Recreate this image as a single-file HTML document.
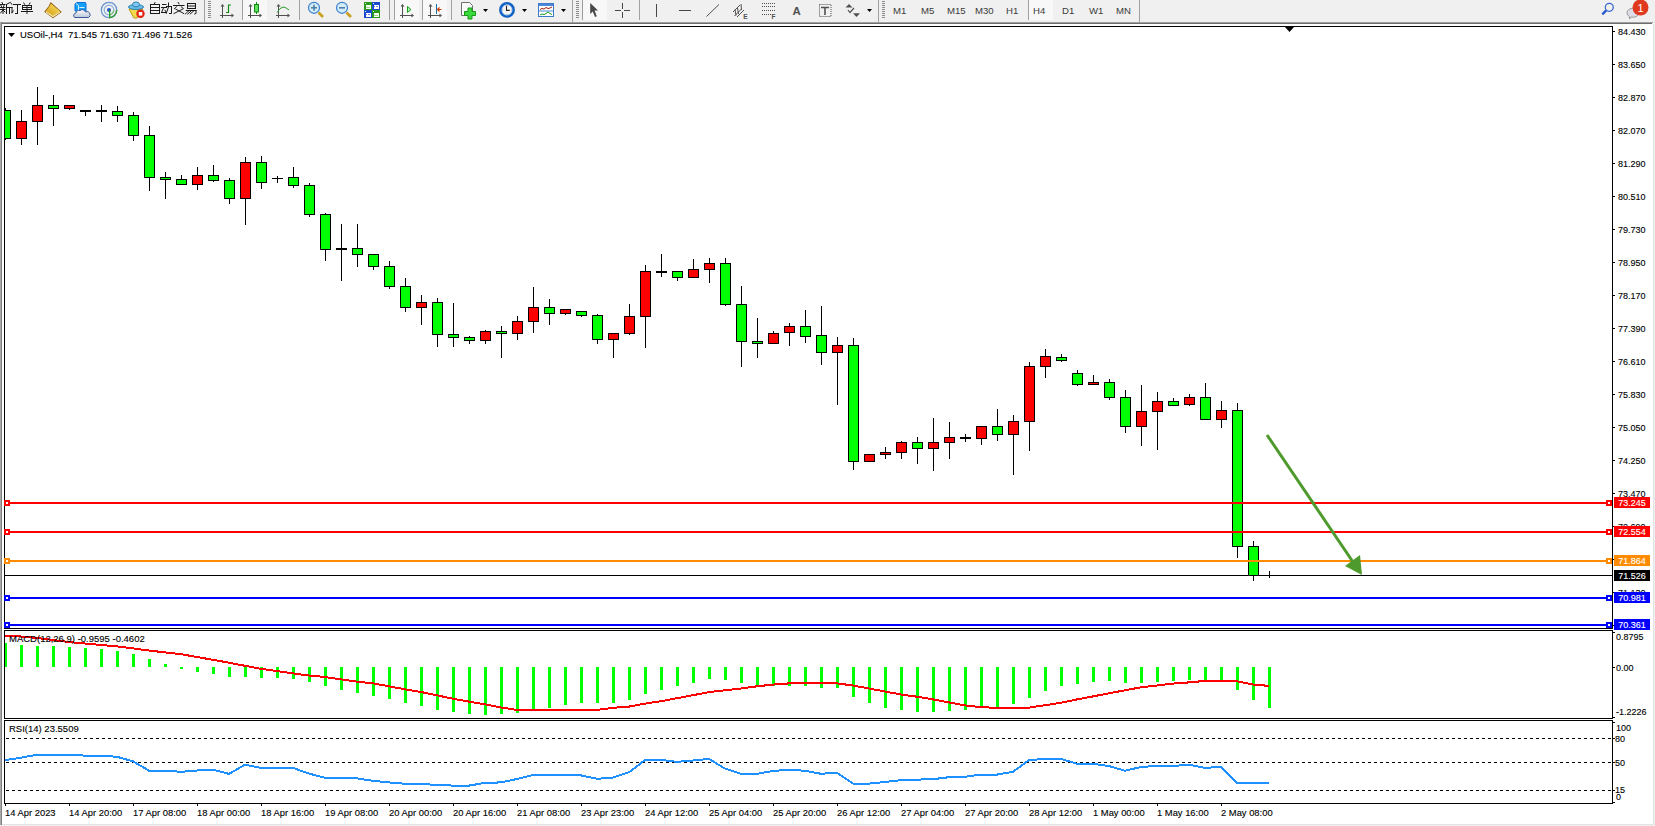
<!DOCTYPE html>
<html><head><meta charset="utf-8">
<style>
html,body{margin:0;padding:0;}
body{width:1655px;height:826px;overflow:hidden;position:relative;background:#f0f0f0;font-family:"Liberation Sans",sans-serif;}
.pl,.tl,.hd,.bx{-webkit-text-stroke:0.12px currentColor;}
svg{position:absolute;left:0;top:0;}
.pl{position:absolute;left:1618px;font-size:9.8px;line-height:12px;color:#000;white-space:pre;transform:scaleX(0.92);transform-origin:0 0;}
.tl{position:absolute;top:806.6px;font-size:9.4px;line-height:12px;color:#000;white-space:pre;}
.bx{position:absolute;left:1614px;width:36px;height:11px;font-size:9px;line-height:11px;color:#fff;text-align:center;white-space:pre;}
.bx span{display:inline-block;font-size:9.8px;transform:scaleX(0.92);}
.hd{position:absolute;font-size:9.5px;line-height:12px;color:#000;white-space:pre;}
.tf{position:absolute;top:4.5px;font-size:9.6px;line-height:12px;color:#3a3a3a;white-space:pre;}
</style></head>
<body>
<svg width="1655" height="826" viewBox="0 0 1655 826" shape-rendering="crispEdges">
  <!-- window frame -->
  <rect x="0" y="22" width="1653" height="1" fill="#a0a0a0"/>
  <rect x="0" y="23" width="1652" height="1" fill="#6e6e6e"/>
  <rect x="2" y="24" width="1651" height="800" fill="#ffffff"/>
  <rect x="0" y="22" width="1" height="803" fill="#a9a9a9"/>
  <rect x="1" y="22" width="1" height="803" fill="#808080"/>
  <rect x="1653" y="24" width="1" height="801" fill="#e4e4e4"/>
  <rect x="2" y="824" width="1652" height="1" fill="#e3e3e3"/>
  <!-- borders -->
  <g fill="#000">
    <rect x="4" y="26" width="1609" height="1"/>
    <rect x="4" y="628" width="1609" height="1"/>
    <rect x="4" y="26" width="1" height="603"/>
    <rect x="1612" y="26" width="1" height="603"/>
    <rect x="4" y="630" width="1609" height="1"/>
    <rect x="4" y="718" width="1609" height="1"/>
    <rect x="4" y="630" width="1" height="89"/>
    <rect x="1612" y="630" width="1" height="89"/>
    <rect x="4" y="720" width="1609" height="1"/>
    <rect x="4" y="803" width="1609" height="1"/>
    <rect x="4" y="720" width="1" height="84"/>
    <rect x="1612" y="720" width="1" height="84"/>
    <rect x="1613" y="31" width="2" height="1"/><rect x="1613" y="64" width="2" height="1"/><rect x="1613" y="97" width="2" height="1"/><rect x="1613" y="130" width="2" height="1"/><rect x="1613" y="163" width="2" height="1"/><rect x="1613" y="196" width="2" height="1"/><rect x="1613" y="229" width="2" height="1"/><rect x="1613" y="262" width="2" height="1"/><rect x="1613" y="295" width="2" height="1"/><rect x="1613" y="328" width="2" height="1"/><rect x="1613" y="361" width="2" height="1"/><rect x="1613" y="394" width="2" height="1"/><rect x="1613" y="427" width="2" height="1"/><rect x="1613" y="460" width="2" height="1"/><rect x="1613" y="493" width="2" height="1"/><rect x="1613" y="526" width="2" height="1"/><rect x="1613" y="559" width="2" height="1"/><rect x="1613" y="592" width="2" height="1"/><rect x="1613" y="625" width="2" height="1"/>
    <rect x="1613" y="632" width="2" height="1"/>
    <rect x="1613" y="667" width="2" height="1"/>
    <rect x="1613" y="717" width="2" height="1"/>
    <rect x="1613" y="722" width="2" height="1"/>
    <rect x="1613" y="738" width="2" height="1"/>
    <rect x="1613" y="762" width="2" height="1"/>
    <rect x="1613" y="790" width="2" height="1"/>
    <rect x="1613" y="802" width="2" height="1"/>
    <rect x="5" y="804" width="1" height="2"/><rect x="69" y="804" width="1" height="2"/><rect x="133" y="804" width="1" height="2"/><rect x="197" y="804" width="1" height="2"/><rect x="261" y="804" width="1" height="2"/><rect x="325" y="804" width="1" height="2"/><rect x="389" y="804" width="1" height="2"/><rect x="453" y="804" width="1" height="2"/><rect x="517" y="804" width="1" height="2"/><rect x="581" y="804" width="1" height="2"/><rect x="645" y="804" width="1" height="2"/><rect x="709" y="804" width="1" height="2"/><rect x="773" y="804" width="1" height="2"/><rect x="837" y="804" width="1" height="2"/><rect x="901" y="804" width="1" height="2"/><rect x="965" y="804" width="1" height="2"/><rect x="1029" y="804" width="1" height="2"/><rect x="1093" y="804" width="1" height="2"/><rect x="1157" y="804" width="1" height="2"/><rect x="1221" y="804" width="1" height="2"/>
    <polygon points="1285,27 1294,27 1289.5,32" shape-rendering="auto"/>
  </g>
  <defs>
    <clipPath id="cm"><rect x="5" y="27" width="1607" height="601"/></clipPath>
    <clipPath id="cd"><rect x="5" y="631" width="1607" height="87"/></clipPath>
    <clipPath id="cr"><rect x="5" y="721" width="1607" height="82"/></clipPath>
  </defs>
  <g clip-path="url(#cm)" fill="#000">
    <rect x="5" y="108" width="1" height="32"/><rect x="0" y="110" width="11" height="29"/><rect x="1" y="111" width="9" height="27" fill="#00ff00"/><rect x="21" y="110" width="1" height="35"/><rect x="16" y="121" width="11" height="18"/><rect x="17" y="122" width="9" height="16" fill="#ff0000"/><rect x="37" y="87" width="1" height="58"/><rect x="32" y="105" width="11" height="17"/><rect x="33" y="106" width="9" height="15" fill="#ff0000"/><rect x="53" y="95" width="1" height="31"/><rect x="48" y="105" width="11" height="4"/><rect x="49" y="106" width="9" height="2" fill="#00ff00"/><rect x="69" y="105" width="1" height="5"/><rect x="64" y="105" width="11" height="4"/><rect x="65" y="106" width="9" height="2" fill="#ff0000"/><rect x="85" y="110" width="1" height="6"/><rect x="80" y="110" width="11" height="2"/><rect x="101" y="105" width="1" height="17"/><rect x="96" y="110" width="11" height="2"/><rect x="117" y="106" width="1" height="16"/><rect x="112" y="111" width="11" height="5"/><rect x="113" y="112" width="9" height="3" fill="#00ff00"/><rect x="133" y="112" width="1" height="29"/><rect x="128" y="115" width="11" height="21"/><rect x="129" y="116" width="9" height="19" fill="#00ff00"/><rect x="149" y="126" width="1" height="65"/><rect x="144" y="135" width="11" height="43"/><rect x="145" y="136" width="9" height="41" fill="#00ff00"/><rect x="165" y="172" width="1" height="27"/><rect x="160" y="177" width="11" height="3"/><rect x="161" y="178" width="9" height="1" fill="#00ff00"/><rect x="181" y="175" width="1" height="10"/><rect x="176" y="179" width="11" height="6"/><rect x="177" y="180" width="9" height="4" fill="#00ff00"/><rect x="197" y="167" width="1" height="23"/><rect x="192" y="175" width="11" height="10"/><rect x="193" y="176" width="9" height="8" fill="#ff0000"/><rect x="213" y="165" width="1" height="17"/><rect x="208" y="175" width="11" height="6"/><rect x="209" y="176" width="9" height="4" fill="#00ff00"/><rect x="229" y="178" width="1" height="26"/><rect x="224" y="180" width="11" height="19"/><rect x="225" y="181" width="9" height="17" fill="#00ff00"/><rect x="245" y="157" width="1" height="68"/><rect x="240" y="162" width="11" height="37"/><rect x="241" y="163" width="9" height="35" fill="#ff0000"/><rect x="261" y="156" width="1" height="33"/><rect x="256" y="162" width="11" height="21"/><rect x="257" y="163" width="9" height="19" fill="#00ff00"/><rect x="277" y="176" width="1" height="7"/><rect x="272" y="178" width="11" height="1"/><rect x="293" y="167" width="1" height="21"/><rect x="288" y="177" width="11" height="9"/><rect x="289" y="178" width="9" height="7" fill="#00ff00"/><rect x="309" y="183" width="1" height="34"/><rect x="304" y="185" width="11" height="30"/><rect x="305" y="186" width="9" height="28" fill="#00ff00"/><rect x="325" y="213" width="1" height="48"/><rect x="320" y="214" width="11" height="36"/><rect x="321" y="215" width="9" height="34" fill="#00ff00"/><rect x="341" y="224" width="1" height="57"/><rect x="336" y="248" width="11" height="2"/><rect x="357" y="224" width="1" height="43"/><rect x="352" y="248" width="11" height="7"/><rect x="353" y="249" width="9" height="5" fill="#00ff00"/><rect x="373" y="254" width="1" height="16"/><rect x="368" y="254" width="11" height="13"/><rect x="369" y="255" width="9" height="11" fill="#00ff00"/><rect x="389" y="261" width="1" height="28"/><rect x="384" y="266" width="11" height="21"/><rect x="385" y="267" width="9" height="19" fill="#00ff00"/><rect x="405" y="278" width="1" height="34"/><rect x="400" y="286" width="11" height="22"/><rect x="401" y="287" width="9" height="20" fill="#00ff00"/><rect x="421" y="295" width="1" height="30"/><rect x="416" y="302" width="11" height="6"/><rect x="417" y="303" width="9" height="4" fill="#ff0000"/><rect x="437" y="298" width="1" height="49"/><rect x="432" y="302" width="11" height="33"/><rect x="433" y="303" width="9" height="31" fill="#00ff00"/><rect x="453" y="303" width="1" height="44"/><rect x="448" y="334" width="11" height="4"/><rect x="449" y="335" width="9" height="2" fill="#00ff00"/><rect x="469" y="336" width="1" height="8"/><rect x="464" y="337" width="11" height="4"/><rect x="465" y="338" width="9" height="2" fill="#00ff00"/><rect x="485" y="330" width="1" height="14"/><rect x="480" y="331" width="11" height="10"/><rect x="481" y="332" width="9" height="8" fill="#ff0000"/><rect x="501" y="326" width="1" height="32"/><rect x="496" y="331" width="11" height="3"/><rect x="497" y="332" width="9" height="1" fill="#00ff00"/><rect x="517" y="316" width="1" height="24"/><rect x="512" y="321" width="11" height="13"/><rect x="513" y="322" width="9" height="11" fill="#ff0000"/><rect x="533" y="287" width="1" height="46"/><rect x="528" y="307" width="11" height="15"/><rect x="529" y="308" width="9" height="13" fill="#ff0000"/><rect x="549" y="299" width="1" height="26"/><rect x="544" y="307" width="11" height="7"/><rect x="545" y="308" width="9" height="5" fill="#00ff00"/><rect x="565" y="309" width="1" height="6"/><rect x="560" y="309" width="11" height="5"/><rect x="561" y="310" width="9" height="3" fill="#ff0000"/><rect x="581" y="311" width="1" height="6"/><rect x="576" y="311" width="11" height="5"/><rect x="577" y="312" width="9" height="3" fill="#00ff00"/><rect x="597" y="314" width="1" height="30"/><rect x="592" y="315" width="11" height="25"/><rect x="593" y="316" width="9" height="23" fill="#00ff00"/><rect x="613" y="333" width="1" height="25"/><rect x="608" y="333" width="11" height="7"/><rect x="609" y="334" width="9" height="5" fill="#ff0000"/><rect x="629" y="304" width="1" height="31"/><rect x="624" y="316" width="11" height="18"/><rect x="625" y="317" width="9" height="16" fill="#ff0000"/><rect x="645" y="265" width="1" height="83"/><rect x="640" y="271" width="11" height="46"/><rect x="641" y="272" width="9" height="44" fill="#ff0000"/><rect x="661" y="254" width="1" height="23"/><rect x="656" y="271" width="11" height="2"/><rect x="677" y="271" width="1" height="10"/><rect x="672" y="271" width="11" height="7"/><rect x="673" y="272" width="9" height="5" fill="#00ff00"/><rect x="693" y="259" width="1" height="19"/><rect x="688" y="269" width="11" height="9"/><rect x="689" y="270" width="9" height="7" fill="#ff0000"/><rect x="709" y="258" width="1" height="25"/><rect x="704" y="263" width="11" height="7"/><rect x="705" y="264" width="9" height="5" fill="#ff0000"/><rect x="725" y="258" width="1" height="48"/><rect x="720" y="263" width="11" height="42"/><rect x="721" y="264" width="9" height="40" fill="#00ff00"/><rect x="741" y="286" width="1" height="81"/><rect x="736" y="304" width="11" height="38"/><rect x="737" y="305" width="9" height="36" fill="#00ff00"/><rect x="757" y="318" width="1" height="40"/><rect x="752" y="341" width="11" height="3"/><rect x="753" y="342" width="9" height="1" fill="#00ff00"/><rect x="773" y="331" width="1" height="13"/><rect x="768" y="333" width="11" height="11"/><rect x="769" y="334" width="9" height="9" fill="#ff0000"/><rect x="789" y="323" width="1" height="23"/><rect x="784" y="326" width="11" height="7"/><rect x="785" y="327" width="9" height="5" fill="#ff0000"/><rect x="805" y="310" width="1" height="33"/><rect x="800" y="326" width="11" height="11"/><rect x="801" y="327" width="9" height="9" fill="#00ff00"/><rect x="821" y="306" width="1" height="59"/><rect x="816" y="335" width="11" height="18"/><rect x="817" y="336" width="9" height="16" fill="#00ff00"/><rect x="837" y="337" width="1" height="68"/><rect x="832" y="345" width="11" height="8"/><rect x="833" y="346" width="9" height="6" fill="#ff0000"/><rect x="853" y="338" width="1" height="132"/><rect x="848" y="345" width="11" height="117"/><rect x="849" y="346" width="9" height="115" fill="#00ff00"/><rect x="869" y="454" width="1" height="8"/><rect x="864" y="454" width="11" height="8"/><rect x="865" y="455" width="9" height="6" fill="#ff0000"/><rect x="885" y="447" width="1" height="12"/><rect x="880" y="452" width="11" height="3"/><rect x="881" y="453" width="9" height="1" fill="#ff0000"/><rect x="901" y="441" width="1" height="18"/><rect x="896" y="442" width="11" height="11"/><rect x="897" y="443" width="9" height="9" fill="#ff0000"/><rect x="917" y="437" width="1" height="27"/><rect x="912" y="442" width="11" height="7"/><rect x="913" y="443" width="9" height="5" fill="#00ff00"/><rect x="933" y="418" width="1" height="53"/><rect x="928" y="442" width="11" height="7"/><rect x="929" y="443" width="9" height="5" fill="#ff0000"/><rect x="949" y="422" width="1" height="37"/><rect x="944" y="437" width="11" height="6"/><rect x="945" y="438" width="9" height="4" fill="#ff0000"/><rect x="965" y="434" width="1" height="8"/><rect x="960" y="437" width="11" height="2"/><rect x="981" y="426" width="1" height="19"/><rect x="976" y="426" width="11" height="13"/><rect x="977" y="427" width="9" height="11" fill="#ff0000"/><rect x="997" y="409" width="1" height="32"/><rect x="992" y="426" width="11" height="9"/><rect x="993" y="427" width="9" height="7" fill="#00ff00"/><rect x="1013" y="415" width="1" height="60"/><rect x="1008" y="421" width="11" height="14"/><rect x="1009" y="422" width="9" height="12" fill="#ff0000"/><rect x="1029" y="362" width="1" height="89"/><rect x="1024" y="366" width="11" height="56"/><rect x="1025" y="367" width="9" height="54" fill="#ff0000"/><rect x="1045" y="349" width="1" height="29"/><rect x="1040" y="356" width="11" height="11"/><rect x="1041" y="357" width="9" height="9" fill="#ff0000"/><rect x="1061" y="354" width="1" height="8"/><rect x="1056" y="357" width="11" height="4"/><rect x="1057" y="358" width="9" height="2" fill="#00ff00"/><rect x="1077" y="370" width="1" height="16"/><rect x="1072" y="373" width="11" height="12"/><rect x="1073" y="374" width="9" height="10" fill="#00ff00"/><rect x="1093" y="375" width="1" height="10"/><rect x="1088" y="382" width="11" height="3"/><rect x="1089" y="383" width="9" height="1" fill="#ff0000"/><rect x="1109" y="379" width="1" height="21"/><rect x="1104" y="382" width="11" height="16"/><rect x="1105" y="383" width="9" height="14" fill="#00ff00"/><rect x="1125" y="390" width="1" height="43"/><rect x="1120" y="397" width="11" height="30"/><rect x="1121" y="398" width="9" height="28" fill="#00ff00"/><rect x="1141" y="385" width="1" height="61"/><rect x="1136" y="411" width="11" height="16"/><rect x="1137" y="412" width="9" height="14" fill="#ff0000"/><rect x="1157" y="392" width="1" height="58"/><rect x="1152" y="401" width="11" height="11"/><rect x="1153" y="402" width="9" height="9" fill="#ff0000"/><rect x="1173" y="398" width="1" height="8"/><rect x="1168" y="401" width="11" height="5"/><rect x="1169" y="402" width="9" height="3" fill="#00ff00"/><rect x="1189" y="394" width="1" height="12"/><rect x="1184" y="397" width="11" height="8"/><rect x="1185" y="398" width="9" height="6" fill="#ff0000"/><rect x="1205" y="383" width="1" height="37"/><rect x="1200" y="397" width="11" height="23"/><rect x="1201" y="398" width="9" height="21" fill="#00ff00"/><rect x="1221" y="401" width="1" height="27"/><rect x="1216" y="410" width="11" height="10"/><rect x="1217" y="411" width="9" height="8" fill="#ff0000"/><rect x="1237" y="403" width="1" height="155"/><rect x="1232" y="410" width="11" height="137"/><rect x="1233" y="411" width="9" height="135" fill="#00ff00"/><rect x="1253" y="541" width="1" height="40"/><rect x="1248" y="546" width="11" height="30"/><rect x="1249" y="547" width="9" height="28" fill="#00ff00"/><rect x="1269" y="571" width="1" height="7"/><rect x="1264" y="575" width="11" height="1"/>
    <rect x="5" y="502" width="1607" height="2" fill="#ff0000"/><rect x="5" y="531" width="1607" height="2" fill="#ff0000"/><rect x="5" y="560" width="1607" height="2" fill="#ff8c00"/><rect x="5" y="597" width="1607" height="2" fill="#0000ff"/><rect x="5" y="624" width="1607" height="2" fill="#0000ff"/>
    <rect x="5" y="575" width="1607" height="1" fill="#000"/>
    <line x1="1267" y1="435" x2="1353" y2="562" stroke="#4f9a2c" stroke-width="3" shape-rendering="auto"/>
    <polygon points="1345,566 1360,555 1362,575" fill="#4f9a2c" shape-rendering="auto"/>
  </g>
  <g><rect x="4" y="500" width="6" height="6" fill="#ff0000"/><rect x="6" y="502" width="2" height="2" fill="#fff"/><rect x="1606" y="500" width="6" height="6" fill="#ff0000"/><rect x="1608" y="502" width="2" height="2" fill="#fff"/><rect x="4" y="529" width="6" height="6" fill="#ff0000"/><rect x="6" y="531" width="2" height="2" fill="#fff"/><rect x="1606" y="529" width="6" height="6" fill="#ff0000"/><rect x="1608" y="531" width="2" height="2" fill="#fff"/><rect x="4" y="558" width="6" height="6" fill="#ff8c00"/><rect x="6" y="560" width="2" height="2" fill="#fff"/><rect x="1606" y="558" width="6" height="6" fill="#ff8c00"/><rect x="1608" y="560" width="2" height="2" fill="#fff"/><rect x="4" y="595" width="6" height="6" fill="#0000ff"/><rect x="6" y="597" width="2" height="2" fill="#fff"/><rect x="1606" y="595" width="6" height="6" fill="#0000ff"/><rect x="1608" y="597" width="2" height="2" fill="#fff"/><rect x="4" y="622" width="6" height="6" fill="#0000ff"/><rect x="6" y="624" width="2" height="2" fill="#fff"/><rect x="1606" y="622" width="6" height="6" fill="#0000ff"/><rect x="1608" y="624" width="2" height="2" fill="#fff"/></g>
  <g clip-path="url(#cd)">
    <g fill="#00ff00"><rect x="4" y="643" width="3" height="24"/><rect x="20" y="645" width="3" height="22"/><rect x="36" y="646" width="3" height="21"/><rect x="52" y="646" width="3" height="21"/><rect x="68" y="647" width="3" height="20"/><rect x="84" y="648" width="3" height="19"/><rect x="100" y="649" width="3" height="18"/><rect x="116" y="651" width="3" height="16"/><rect x="132" y="654" width="3" height="13"/><rect x="148" y="659" width="3" height="8"/><rect x="164" y="664" width="3" height="3"/><rect x="180" y="667" width="3" height="2"/><rect x="196" y="667" width="3" height="5"/><rect x="212" y="667" width="3" height="7"/><rect x="228" y="667" width="3" height="10"/><rect x="244" y="667" width="3" height="10"/><rect x="260" y="667" width="3" height="11"/><rect x="276" y="667" width="3" height="11"/><rect x="292" y="667" width="3" height="12"/><rect x="308" y="667" width="3" height="15"/><rect x="324" y="667" width="3" height="19"/><rect x="340" y="667" width="3" height="23"/><rect x="356" y="667" width="3" height="26"/><rect x="372" y="667" width="3" height="29"/><rect x="388" y="667" width="3" height="32"/><rect x="404" y="667" width="3" height="36"/><rect x="420" y="667" width="3" height="39"/><rect x="436" y="667" width="3" height="43"/><rect x="452" y="667" width="3" height="45"/><rect x="468" y="667" width="3" height="47"/><rect x="484" y="667" width="3" height="48"/><rect x="500" y="667" width="3" height="47"/><rect x="516" y="667" width="3" height="46"/><rect x="532" y="667" width="3" height="42"/><rect x="548" y="667" width="3" height="41"/><rect x="564" y="667" width="3" height="38"/><rect x="580" y="667" width="3" height="36"/><rect x="596" y="667" width="3" height="36"/><rect x="612" y="667" width="3" height="36"/><rect x="628" y="667" width="3" height="33"/><rect x="644" y="667" width="3" height="27"/><rect x="660" y="667" width="3" height="23"/><rect x="676" y="667" width="3" height="19"/><rect x="692" y="667" width="3" height="16"/><rect x="708" y="667" width="3" height="12"/><rect x="724" y="667" width="3" height="13"/><rect x="740" y="667" width="3" height="16"/><rect x="756" y="667" width="3" height="18"/><rect x="772" y="667" width="3" height="19"/><rect x="788" y="667" width="3" height="19"/><rect x="804" y="667" width="3" height="19"/><rect x="820" y="667" width="3" height="21"/><rect x="836" y="667" width="3" height="21"/><rect x="852" y="667" width="3" height="30"/><rect x="868" y="667" width="3" height="36"/><rect x="884" y="667" width="3" height="41"/><rect x="900" y="667" width="3" height="43"/><rect x="916" y="667" width="3" height="45"/><rect x="932" y="667" width="3" height="45"/><rect x="948" y="667" width="3" height="44"/><rect x="964" y="667" width="3" height="43"/><rect x="980" y="667" width="3" height="40"/><rect x="996" y="667" width="3" height="40"/><rect x="1012" y="667" width="3" height="37"/><rect x="1028" y="667" width="3" height="31"/><rect x="1044" y="667" width="3" height="24"/><rect x="1060" y="667" width="3" height="19"/><rect x="1076" y="667" width="3" height="17"/><rect x="1092" y="667" width="3" height="15"/><rect x="1108" y="667" width="3" height="14"/><rect x="1124" y="667" width="3" height="16"/><rect x="1140" y="667" width="3" height="16"/><rect x="1156" y="667" width="3" height="15"/><rect x="1172" y="667" width="3" height="14"/><rect x="1188" y="667" width="3" height="13"/><rect x="1204" y="667" width="3" height="14"/><rect x="1220" y="667" width="3" height="13"/><rect x="1236" y="667" width="3" height="23"/><rect x="1252" y="667" width="3" height="33"/><rect x="1268" y="667" width="3" height="41"/></g>
    <polyline points="5,635.8 21,636.5 37,638 53,640 69,642 85,643.5 101,645 117,646.4 133,648.4 149,650.5 165,652.4 181,654.2 197,657 213,659.8 229,662.7 245,665.8 261,668.8 277,671 293,673.4 309,675.5 325,677 341,679.4 357,681.6 373,683.4 389,686.3 405,689.3 421,692 437,695.3 453,698.8 469,701.6 485,704.3 501,707.5 517,709.9 597,709.9 613,707.8 629,706.6 645,703.6 661,701.2 677,698.2 693,695.2 709,692.1 725,690.3 741,688.5 757,686.3 773,684.6 789,683.4 805,683.1 821,683.1 837,683.4 853,685.5 869,688.5 885,691.5 901,694.5 917,696.7 933,699.4 949,702.4 965,705.4 981,707.2 997,707.8 1013,707.8 1029,707.6 1045,705.2 1061,702.8 1077,699.4 1093,696.4 1109,693.3 1125,690.3 1141,687.3 1157,685.5 1173,683.6 1189,682.4 1205,680.9 1221,680.9 1237,681.3 1253,684.5 1269,685.9" fill="none" stroke="#ff0000" stroke-width="2"/>
  </g>
  <g clip-path="url(#cr)">
    <g stroke="#000" stroke-width="1" stroke-dasharray="3 3">
      <line x1="6" y1="738.5" x2="1612" y2="738.5"/>
      <line x1="6" y1="762.5" x2="1612" y2="762.5"/>
      <line x1="6" y1="790.5" x2="1612" y2="790.5"/>
    </g>
    <polyline points="5,760.1 21,757.7 37,754.7 53,754.7 69,754.7 85,755.6 101,755.6 117,756.8 133,761.3 149,770.7 165,770.7 181,771.8 197,770.5 213,769.7 229,773.9 245,764.7 261,767.9 277,767.9 293,767.9 309,773.6 325,777.8 341,777.8 357,778.4 373,780.8 389,782.4 405,783.8 421,783.8 437,785 453,785.6 469,785.6 485,782.9 501,782.4 517,779 533,775 549,775 565,775 581,775.4 597,778.8 613,777.6 629,772.2 645,760.1 661,759.9 677,761.9 693,760.5 709,758.9 725,768.6 741,773.8 757,773.8 773,771 789,769.7 805,770.8 821,773.8 837,772.7 853,783.6 869,783.6 885,782 901,780.2 917,779.6 933,779.2 949,777.2 965,776.8 981,774.6 997,774.6 1013,771.8 1029,760.1 1045,758.9 1061,758.9 1077,763.7 1093,763.7 1109,766.1 1125,770.7 1141,767 1157,765.8 1173,765.9 1189,764.8 1205,767.9 1221,766.9 1237,783 1253,783 1269,783" fill="none" stroke="#1e90ff" stroke-width="2"/>
  </g>
</svg>
<!-- header texts -->
<svg width="20" height="20" style="left:6px;top:30px"><polygon points="2,3 9,3 5.5,7" fill="#000"/></svg>
<div class="hd" style="left:20px;top:28.5px">USOil-,H4  71.545 71.630 71.496 71.526</div>
<div class="hd" style="left:9px;top:633px">MACD(12,26,9) -0.9595 -0.4602</div>
<div class="hd" style="left:9px;top:723px">RSI(14) 23.5509</div>
<div class="pl" style="top:25.5px">84.430</div><div class="pl" style="top:58.5px">83.650</div><div class="pl" style="top:91.5px">82.870</div><div class="pl" style="top:124.5px">82.070</div><div class="pl" style="top:157.5px">81.290</div><div class="pl" style="top:190.5px">80.510</div><div class="pl" style="top:223.5px">79.730</div><div class="pl" style="top:256.5px">78.950</div><div class="pl" style="top:289.5px">78.170</div><div class="pl" style="top:322.5px">77.390</div><div class="pl" style="top:355.5px">76.610</div><div class="pl" style="top:388.5px">75.830</div><div class="pl" style="top:421.5px">75.050</div><div class="pl" style="top:454.5px">74.250</div><div class="pl" style="top:487.5px">73.470</div><div class="pl" style="top:520.5px">72.690</div><div class="pl" style="top:553.5px">71.910</div><div class="pl" style="top:586.5px">71.130</div><div class="pl" style="top:619.5px">70.350</div>
<div class="bx" style="top:497px;background:#ff0000"><span>73.245</span></div><div class="bx" style="top:526px;background:#ff0000"><span>72.554</span></div><div class="bx" style="top:555px;background:#ff8c00"><span>71.864</span></div><div class="bx" style="top:592px;background:#0000ff"><span>70.981</span></div><div class="bx" style="top:619px;background:#0000ff"><span>70.361</span></div>
<div class="bx" style="top:570px;background:#000"><span>71.526</span></div>
<div class="pl" style="top:631px;left:1616px">0.8795</div>
<div class="pl" style="top:661.5px;left:1616px">0.00</div>
<div class="pl" style="top:706px;left:1616px">-1.2226</div>
<div class="pl" style="top:721.5px;left:1616px">100</div>
<div class="pl" style="top:732.5px;left:1615px">80</div>
<div class="pl" style="top:756.5px;left:1615px">50</div>
<div class="pl" style="top:784px;left:1615px">15</div>
<div class="pl" style="top:791px;left:1616px">0</div>
<div class="tl" style="left:5px">14 Apr 2023</div><div class="tl" style="left:69px">14 Apr 20:00</div><div class="tl" style="left:133px">17 Apr 08:00</div><div class="tl" style="left:197px">18 Apr 00:00</div><div class="tl" style="left:261px">18 Apr 16:00</div><div class="tl" style="left:325px">19 Apr 08:00</div><div class="tl" style="left:389px">20 Apr 00:00</div><div class="tl" style="left:453px">20 Apr 16:00</div><div class="tl" style="left:517px">21 Apr 08:00</div><div class="tl" style="left:581px">23 Apr 23:00</div><div class="tl" style="left:645px">24 Apr 12:00</div><div class="tl" style="left:709px">25 Apr 04:00</div><div class="tl" style="left:773px">25 Apr 20:00</div><div class="tl" style="left:837px">26 Apr 12:00</div><div class="tl" style="left:901px">27 Apr 04:00</div><div class="tl" style="left:965px">27 Apr 20:00</div><div class="tl" style="left:1029px">28 Apr 12:00</div><div class="tl" style="left:1093px">1 May 00:00</div><div class="tl" style="left:1157px">1 May 16:00</div><div class="tl" style="left:1221px">2 May 08:00</div>
<!-- toolbar -->
<svg width="1655" height="22" viewBox="0 0 1655 22" style="left:0;top:0">
  <!-- separators -->
  <g fill="#a0a0a0" shape-rendering="crispEdges">
    <rect x="204" y="0" width="1" height="22"/>
    <rect x="242" y="0" width="1" height="20"/>
    <rect x="299" y="0" width="1" height="20"/>
    <rect x="389" y="0" width="1" height="20"/>
    <rect x="394" y="0" width="1" height="20"/>
    <rect x="422" y="0" width="1" height="20"/>
    <rect x="451" y="0" width="1" height="20"/>
    <rect x="572" y="0" width="1" height="22"/>
    <rect x="582" y="0" width="1" height="20"/>
    <rect x="639" y="0" width="1" height="20"/>
    <rect x="878" y="0" width="1" height="22"/>
    <rect x="1028" y="0" width="1" height="20"/>
    <rect x="1139" y="0" width="1" height="22"/>
  </g>
  <!-- pressed button backgrounds -->
  <g fill="#f8f8f8" shape-rendering="crispEdges">
    <rect x="243" y="0" width="24" height="20"/>
    <rect x="395" y="0" width="24" height="20"/>
    <rect x="423" y="0" width="24" height="20"/>
    <rect x="583" y="0" width="24" height="20"/>
    <rect x="1029" y="0" width="24" height="20"/>
  </g>
  <!-- grips -->
  <g fill="#8c8c8c" shape-rendering="crispEdges">
    <path d="M208 1h3v1h-3zM208 3h3v1h-3zM208 5h3v1h-3zM208 7h3v1h-3zM208 9h3v1h-3zM208 11h3v1h-3zM208 13h3v1h-3zM208 15h3v1h-3zM208 17h3v1h-3z"/>
    <path d="M576 1h3v1h-3zM576 3h3v1h-3zM576 5h3v1h-3zM576 7h3v1h-3zM576 9h3v1h-3zM576 11h3v1h-3zM576 13h3v1h-3zM576 15h3v1h-3zM576 17h3v1h-3z"/>
    <path d="M882 1h3v1h-3zM882 3h3v1h-3zM882 5h3v1h-3zM882 7h3v1h-3zM882 9h3v1h-3zM882 11h3v1h-3zM882 13h3v1h-3zM882 15h3v1h-3zM882 17h3v1h-3z"/>
  </g>
  <!-- Chinese text 新订单 (approximate strokes) -->
  <g stroke="#1a1a1a" stroke-width="1" fill="none" stroke-linecap="square">
    <path d="M2 2.5l0.5 1M0 4.5h5M1 5.5l0.5 1M4 5.5l-0.5 1M0 7.5h5M0 9.5h5M3 7.5v6M3 10l-2.5 3M3 10l2 2"/>
    <path d="M9.8 2.6l-3.3 1.8M6.5 4.5v9M6.5 7.5h3.5M9.5 7.5v6"/>
    <path d="M10.8 2.8l1 1.5M10.5 7.5h1.5M12 7.5v5M12 12.8l1.2-2"/>
    <path d="M13.5 4.5h7M17.5 4.5v8.5M15.5 13.5h2"/>
    <path d="M23.8 3l0.8 1.3M30 3l-0.8 1.3M22.5 5.5h9M22.5 7.5h9M22.5 9.5h9M22.5 5.5v4M31.5 5.5v4M27 5.5v8M21.5 11.5h11"/>
  </g>
  <!-- 自动交易 -->
  <g stroke="#1a1a1a" stroke-width="1" fill="none" stroke-linecap="square">
    <path d="M155 2.5l-0.7 1.3M150.5 4.5h8.5M150.5 7.5h8.5M150.5 10.5h8.5M150.5 13.5h8.5M150.5 4.5v9M159.5 4.5v9"/>
    <path d="M162.5 4.5h3.5M161.5 7.5h5M163.5 8l-2 4.5M161.5 12.5h4.5M165 10.2l1.2 2.2M166.5 6.5h4.5M171.5 6.5v6.5M171 13.5h-1.5M168.5 3v4l-2.2 6.3"/>
    <path d="M178.2 2.5l0.8 1.3M173.5 5.5h10.5M176.5 6.8l-2 1.8M181.2 6.8l2.2 1.8M175.8 9.2l8 4.3M182.5 9.2l-8.5 4.3"/>
    <path d="M187.5 3.5h7.5M187.5 6h7.5M187.5 8.5h7.5M187.5 3.5v5M195.5 3.5v5M186.2 10.5h9.8M196 10.5v3l-1.3 0.5M188.8 10.8l-3.3 3M191.3 10.8l-3.6 3.2M193.8 10.8l-3.6 3.2"/>
  </g>
  <!-- book icon -->
  <defs>
    <linearGradient id="bk" x1="0" y1="1" x2="1" y2="0"><stop offset="0" stop-color="#d49a10"/><stop offset="1" stop-color="#fbe868"/></linearGradient>
    <linearGradient id="cl" x1="0" y1="0" x2="0" y2="1"><stop offset="0" stop-color="#ffffff"/><stop offset="1" stop-color="#b8c4d8"/></linearGradient>
  </defs>
  <polygon points="45,11.6 49.2,6.3 50.8,3 60.9,11.9 53,17.6" fill="#e8d070" stroke="#9a6010" stroke-width="1.1"/>
  <polygon points="46.2,11 50,5.8 51,4 60,11.3 53,15.3" fill="url(#bk)"/>
  <path d="M46 12.2l7 4.6 7-4.8" stroke="#f2e6b0" stroke-width="1" fill="none"/>
  <!-- cloud server -->
  <polygon points="75,4 77,2.5 85.5,2.5 86,4 86,11 75,11" fill="#12a0f8" stroke="#0a70d8" stroke-width="1"/>
  <path d="M76 3.5l2.5 2v5.5M79.5 7.5h5" stroke="#d8f0ff" stroke-width="1" fill="none"/>
  <path d="M74.5 17.5a2.6 2.6 0 0 1 1.5-4.5a3 3 0 0 1 4-2.5a3.5 3.5 0 0 1 5.5 1.5a3 3 0 0 1 3 5.5z" fill="url(#cl)" stroke="#3a5898" stroke-width="1"/>
  <!-- radar -->
  <g fill="none" stroke-width="1">
    <circle cx="109" cy="10" r="7.7" stroke="#6a94d0" stroke-width="1.3"/>
    <circle cx="109" cy="10" r="4.8" stroke="#8aaede" stroke-width="1.2"/>
    <path d="M109 17.7a7.7 7.7 0 0 0 7.7-7.7" stroke="#3a9a3a" stroke-width="1.5"/><path d="M109 14.8a4.8 4.8 0 0 0 4.8-4.8" stroke="#7ac07a" stroke-width="1.2"/>
  </g>
  <circle cx="109" cy="10" r="2" fill="#2856c8"/>
  <rect x="109" y="10" width="1.3" height="7.7" fill="#1ea01e"/>
  <!-- auto trading -->
  <polygon points="129,9 143,9 137,18 134,18" fill="#f4dc50" stroke="#c89a10" stroke-width="1"/>
  <ellipse cx="136" cy="7" rx="7.5" ry="2.5" fill="#6cbce8" stroke="#2a80b0" stroke-width="1"/>
  <ellipse cx="136" cy="4.5" rx="3.5" ry="2.5" fill="#80c8f0" stroke="#2a80b0" stroke-width="1"/>
  <circle cx="140.5" cy="13.8" r="4.2" fill="#e02010"/>
  <rect x="138.7" y="12" width="3.6" height="3.6" fill="#fff"/>
  <!-- chart type icons: axes -->
  <g fill="#505050" shape-rendering="crispEdges">
    <rect x="222" y="5" width="1" height="13"/><rect x="220" y="15" width="13" height="1"/>
    <rect x="250" y="5" width="1" height="13"/><rect x="248" y="15" width="13" height="1"/>
    <rect x="278" y="5" width="1" height="13"/><rect x="276" y="15" width="13" height="1"/>
    <rect x="402" y="5" width="1" height="13"/><rect x="400" y="15" width="13" height="1"/>
    <rect x="430" y="5" width="1" height="13"/><rect x="428" y="15" width="13" height="1"/>
  </g>
  <g fill="#505050">
    <polygon points="222.5,4 220.5,6.5 224.5,6.5"/><polygon points="234,15.5 231.5,13.5 231.5,17.5"/>
    <polygon points="250.5,4 248.5,6.5 252.5,6.5"/><polygon points="262,15.5 259.5,13.5 259.5,17.5"/>
    <polygon points="278.5,4 276.5,6.5 280.5,6.5"/><polygon points="290,15.5 287.5,13.5 287.5,17.5"/>
    <polygon points="402.5,4 400.5,6.5 404.5,6.5"/><polygon points="414,15.5 411.5,13.5 411.5,17.5"/>
    <polygon points="430.5,4 428.5,6.5 432.5,6.5"/><polygon points="442,15.5 439.5,13.5 439.5,17.5"/>
  </g>
  <path d="M226 12.5h2.5v-7.5h2.5" stroke="#108a10" stroke-width="1.2" fill="none"/>
  <rect x="256" y="2" width="1" height="12" fill="#108a10"/>
  <rect x="254.5" y="4.5" width="4" height="7.5" fill="#60e060" stroke="#108a10" stroke-width="1"/>
  <path d="M277 12.5q3-5 6-5.5q2.5 0 6 3" stroke="#2a9a2a" stroke-width="1" fill="none"/>
  <polygon points="407.5,6.5 411,9.5 407.5,12.5" fill="#b0f0b0" stroke="#18a018" stroke-width="1"/>
  <rect x="436" y="4" width="1" height="10" fill="#1a70a8"/>
  <path d="M441.5 9.5h-4M439.5 7.5l-2 2 2 2" stroke="#d04000" stroke-width="1.2" fill="none"/>
  <!-- zoom -->
  <circle cx="314" cy="7.8" r="5.5" fill="#d4ecfa" stroke="#3a80d0" stroke-width="1.2"/>
  <path d="M311 7.8h6M314 4.8v6" stroke="#4a80a8" stroke-width="1.6"/>
  <path d="M318.5 12.5l4.5 4.5" stroke="#c8a020" stroke-width="2.6"/>
  <circle cx="342" cy="7.8" r="5.5" fill="#d4ecfa" stroke="#3a80d0" stroke-width="1.2"/>
  <path d="M339 7.8h6" stroke="#4a80a8" stroke-width="1.6"/>
  <path d="M346.5 12.5l4.5 4.5" stroke="#c8a020" stroke-width="2.6"/>
  <!-- tile -->
  <g shape-rendering="crispEdges">
    <rect x="364" y="2" width="8" height="8" fill="#2a9a1a"/>
    <rect x="372" y="2" width="8" height="8" fill="#1a4ad0"/>
    <rect x="364" y="10" width="8" height="8" fill="#1a4ad0"/>
    <rect x="372" y="10" width="8" height="8" fill="#2a9a1a"/>
    <rect x="365.5" y="5" width="5" height="3.5" fill="#fff"/>
    <rect x="373.5" y="5" width="5" height="3.5" fill="#fff"/>
    <rect x="365.5" y="13" width="5" height="3.5" fill="#fff"/>
    <rect x="373.5" y="13" width="5" height="3.5" fill="#fff"/>
    <rect x="366" y="6.5" width="4" height="1" fill="#9ad88a"/>
    <rect x="374" y="14.5" width="4" height="1" fill="#9ad88a"/>
    <rect x="374" y="6" width="1" height="1" fill="#6a8ae8"/><rect x="376" y="6" width="2" height="1" fill="#6a8ae8"/>
    <rect x="366" y="14" width="1" height="1" fill="#6a8ae8"/><rect x="368" y="14" width="2" height="1" fill="#6a8ae8"/>
    <rect x="365" y="3" width="1" height="1" fill="#dff"/><rect x="373" y="3" width="1" height="1" fill="#dff"/>
    <rect x="365" y="11" width="1" height="1" fill="#dff"/><rect x="373" y="11" width="1" height="1" fill="#dff"/>
  </g>
  <!-- new doc + -->
  <path d="M461.5 2.5h8l3 3v10h-11z" fill="#fafafa" stroke="#707070" stroke-width="1"/>
  <path d="M468 8h4v3.5h3.5v4h-3.5v3.5h-4v-3.5h-3.5v-4h3.5z" fill="#3ed83e" stroke="#109a10" stroke-width="1"/>
  <!-- dropdown arrows -->
  <g fill="#000">
    <polygon points="483,9 488,9 485.5,12"/>
    <polygon points="522,9 527,9 524.5,12"/>
    <polygon points="561,9 566,9 563.5,12"/>
    <polygon points="867,9 872,9 869.5,12"/>
  </g>
  <!-- clock -->
  <circle cx="507" cy="9.9" r="6.6" fill="#f6f6f6" stroke="#1262c4" stroke-width="2.6"/>
  <circle cx="507" cy="9.9" r="5.2" fill="none" stroke="#7ab4f0" stroke-width="0.6"/>
  <path d="M506.5 5.8v4.6h3.2" stroke="#222" stroke-width="1.1" fill="none"/>
  <path d="M507 5.2v0.8M511.7 9.9h-0.8M507 14.6v-0.8M502.3 9.9h0.8" stroke="#888" stroke-width="0.8"/>
  <!-- template -->
  <rect x="538.5" y="3.5" width="15" height="13" fill="#fff" stroke="#3a7ac8" stroke-width="1"/>
  <rect x="539" y="4" width="14" height="2" fill="#4a8ad8"/>
  <rect x="539" y="10.5" width="14" height="1" fill="#4a8ad8"/>
  <path d="M540 9.5l2-1 2 0.5 2-1.5 2 1 2-0.5 2-1" stroke="#a02010" stroke-width="1" fill="none"/>
  <path d="M540 15l2-1 2 0.5 2-1 2-1.5 2 1.5 2 1" stroke="#1a9a1a" stroke-width="1" fill="none"/>
  <!-- cursor -->
  <polygon points="590.2,3 598,10.4 594.6,10.6 596.8,16.2 595,17 592.8,11.4 590.2,14" fill="#484848"/>
  <!-- crosshair -->
  <g fill="#484848" shape-rendering="crispEdges">
    <rect x="622" y="3" width="1" height="6"/><rect x="622" y="12" width="1" height="6"/>
    <rect x="615" y="10" width="6" height="1"/><rect x="624" y="10" width="6" height="1"/>
    <rect x="656" y="4" width="1" height="13"/>
    <rect x="679" y="10" width="12" height="1"/>
  </g>
  <path d="M706.5 16.5l12.5-12" stroke="#505050" stroke-width="1" fill="none"/>
  <!-- channel -->
  <path d="M733 12l7-7M734.5 16l7-7M737 17l7-7M735 9.5l1 6M737.5 8l1 6M741 4l0.5 6" stroke="#505050" stroke-width="1" fill="none"/>
  <text x="743.2" y="19" font-family="Liberation Sans" font-size="6.5" font-weight="bold" fill="#505050">E</text>
  <!-- fibo -->
  <g fill="#505050" shape-rendering="crispEdges">
    <path d="M762 3h1v1h-1zM764 3h1v1h-1zM766 3h1v1h-1zM768 3h1v1h-1zM770 3h1v1h-1zM772 3h1v1h-1zM774 3h1v1h-1z"/>
    <path d="M762 6h1v1h-1zM764 6h1v1h-1zM766 6h1v1h-1zM768 6h1v1h-1zM770 6h1v1h-1zM772 6h1v1h-1zM774 6h1v1h-1z"/>
    <path d="M762 10h1v1h-1zM764 10h1v1h-1zM766 10h1v1h-1zM768 10h1v1h-1zM770 10h1v1h-1zM772 10h1v1h-1zM774 10h1v1h-1z"/>
    <path d="M762 14h1v1h-1zM764 14h1v1h-1zM766 14h1v1h-1zM768 14h1v1h-1zM770 14h1v1h-1z"/>
  </g>
  <text x="771.5" y="19" font-family="Liberation Sans" font-size="6.5" font-weight="bold" fill="#505050">F</text>
  <!-- A -->
  <text x="792.6" y="15" font-family="Liberation Sans" font-size="11.5" font-weight="bold" fill="#505050">A</text>
  <!-- T box -->
  <rect x="819.5" y="4.5" width="11.5" height="12" fill="none" stroke="#505050" stroke-width="1" stroke-dasharray="1 1"/>
  <path d="M821 7.5h8M825 7.5v7.5" stroke="#505050" stroke-width="1.6" fill="none"/>
  <!-- arrows icon -->
  <polygon points="849,4 852.5,7.5 845.5,7.5" fill="#505050"/>
  <path d="M848 10l2 2.5 4-4.5" stroke="#505050" stroke-width="1.2" fill="none"/>
  <polygon points="856.5,17 860,13.2 853,13.2" fill="#505050"/>
  <!-- search -->
  <circle cx="1609.3" cy="7.3" r="4" fill="none" stroke="#3462d0" stroke-width="1.2"/>
  <path d="M1606.3 10.3l-4 4" stroke="#2c5ad0" stroke-width="2.4"/>
  <!-- notification -->
  <path d="M1627 13a6 4.5 0 1 1 4 4l-1.5 2v-2.3a6 4.5 0 0 1-2.5-3.7z" fill="#dcdde6" stroke="#9a9a9a" stroke-width="1"/>
  <circle cx="1640.5" cy="7.5" r="8" fill="#e03a1e"/>
  <text x="1640.5" y="11.5" font-family="Liberation Sans" font-size="11" fill="#fff" text-anchor="middle">1</text>
</svg>
<div class="tf" style="left:893px">M1</div>
<div class="tf" style="left:921px">M5</div>
<div class="tf" style="left:947px">M15</div>
<div class="tf" style="left:975px">M30</div>
<div class="tf" style="left:1006px">H1</div>
<div class="tf" style="left:1033px">H4</div>
<div class="tf" style="left:1062px">D1</div>
<div class="tf" style="left:1089px">W1</div>
<div class="tf" style="left:1116px">MN</div>

</body></html>
